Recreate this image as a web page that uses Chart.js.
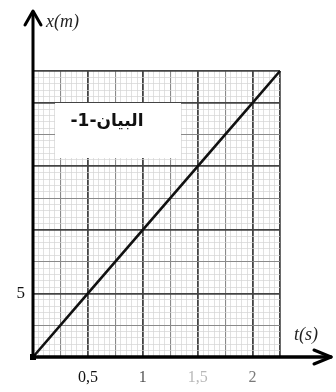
<!DOCTYPE html>
<html>
<head>
<meta charset="utf-8">
<script src="https://cdn.jsdelivr.net/npm/chart.js@4"></script>
<style>
  body { margin: 0; background: #fff; }
  canvas { display: block; }
</style>
</head>
<body>
<canvas id="graph" width="336" height="392"></canvas>
<script>
// x(t) straight line through the origin
var times = [0, 0.5, 1, 1.5, 2, 2.25];
var positions = [0, 5, 10, 15, 20, 22.5];

// axis ranges / graph paper steps
var tMax = 2.25;
var xMax = 22.5;
var tStep = 0.05;
var xStep = 0.5;

// labelled ticks
var tTickValues = [0.5, 1, 1.5, 2];
var tTickText = ['0,5', '1', '1,5', '2'];
var tTickColors = ['#111', '#555', '#b8b8b8', '#7a7a7a'];
var xTickValues = [5];
var xTickText = ['5'];

var caption = 'البيان-1-';

function near(a, b) { return Math.abs(a - b) < 1e-6; }

function lineLevel(v, major, medium, max) {
  if (near(v, max) || near(v, 0)) return 2;
  var k = Math.round(v * 1000);
  if (k % Math.round(major * 1000) === 0) return 2;
  if (k % Math.round(medium * 1000) === 0) return 1;
  return 0;
}
var gridColors = ['#d4d4d4', '#8a8a8a', '#444'];
var gridWidths = [0.7, 1.1, 1.8];

// axes with arrows, axis names and the caption box
var paperPlugin = {
  id: 'paper',
  beforeDatasetsDraw: function (chart) {
    var c = chart.ctx, a = chart.chartArea;
    c.save();
    c.fillStyle = '#fff';
    c.fillRect(a.left + 22, a.top + 32, 126, 55);
    c.font = 'bold 17px "DejaVu Sans"';
    c.fillStyle = '#111';
    c.textAlign = 'center';
    c.textBaseline = 'middle';
    c.direction = 'rtl';
    c.fillText(caption, a.left + 74, a.top + 51);
    c.restore();
  },
  afterDraw: function (chart) {
    var c = chart.ctx, a = chart.chartArea;
    c.save();
    c.strokeStyle = '#000';
    c.lineCap = 'round';
    c.lineJoin = 'round';
    // time axis
    c.lineWidth = 3.5;
    c.beginPath();
    c.moveTo(a.left, a.bottom);
    c.lineTo(331, a.bottom);
    c.stroke();
    c.lineWidth = 3;
    c.beginPath();
    c.moveTo(314, a.bottom - 7);
    c.lineTo(331, a.bottom);
    c.lineTo(314, a.bottom + 7);
    c.stroke();
    // position axis
    c.beginPath();
    c.moveTo(a.left, a.bottom);
    c.lineTo(a.left, 12);
    c.stroke();
    c.beginPath();
    c.moveTo(a.left - 8, 25);
    c.lineTo(a.left, 11);
    c.lineTo(a.left + 8, 25);
    c.stroke();
    c.fillStyle = '#000';
    c.fillRect(a.left - 3, a.bottom - 3, 6, 6);
    // axis names
    c.font = 'italic 18px "Liberation Serif"';
    c.fillStyle = '#222';
    c.textBaseline = 'middle';
    c.textAlign = 'left';
    c.fillText('x(m)', 46, 22);
    c.fillText('t(s)', 294, 335);
    c.restore();
  }
};

Chart.defaults.font.family = '"Liberation Serif", serif';

new Chart(document.getElementById('graph'), {
  type: 'line',
  data: {
    datasets: [{
      data: times.map(function (t, i) { return { x: t, y: positions[i] }; }),
      borderColor: '#111',
      borderWidth: 2.6,
      pointRadius: 0,
      tension: 0,
      clip: false
    }]
  },
  options: {
    responsive: false,
    animation: false,
    layout: { padding: { top: 71, right: 56, left: 0, bottom: 0 } },
    plugins: { legend: { display: false }, tooltip: { enabled: false } },
    scales: {
      x: {
        type: 'linear',
        min: 0,
        max: tMax,
        afterFit: function (s) { s.height = 35; },
        border: { display: false },
        grid: {
          drawTicks: false,
          color: function (ctx) { return gridColors[lineLevel(ctx.tick.value, 0.5, 0.25, tMax)]; },
          lineWidth: function (ctx) { return gridWidths[lineLevel(ctx.tick.value, 0.5, 0.25, tMax)]; }
        },
        ticks: {
          stepSize: tStep,
          autoSkip: false,
          maxRotation: 0,
          minRotation: 0,
          padding: 11,
          font: { size: 16 },
          color: function (ctx) {
            for (var i = 0; i < tTickValues.length; i++) {
              if (near(ctx.tick.value, tTickValues[i])) return tTickColors[i];
            }
            return '#000';
          },
          callback: function (v) {
            for (var i = 0; i < tTickValues.length; i++) {
              if (near(v, tTickValues[i])) return tTickText[i];
            }
            return '';
          }
        }
      },
      y: {
        type: 'linear',
        min: 0,
        max: xMax,
        afterFit: function (s) { s.width = 33; },
        border: { display: false },
        grid: {
          drawTicks: false,
          color: function (ctx) { return gridColors[lineLevel(ctx.tick.value, 5, 2.5, xMax)]; },
          lineWidth: function (ctx) { return gridWidths[lineLevel(ctx.tick.value, 5, 2.5, xMax)]; }
        },
        ticks: {
          stepSize: xStep,
          autoSkip: false,
          padding: 8,
          font: { size: 17 },
          color: '#111',
          callback: function (v) {
            for (var i = 0; i < xTickValues.length; i++) {
              if (near(v, xTickValues[i])) return xTickText[i];
            }
            return '';
          }
        }
      }
    }
  },
  plugins: [paperPlugin]
});
</script>
</body>
</html>
